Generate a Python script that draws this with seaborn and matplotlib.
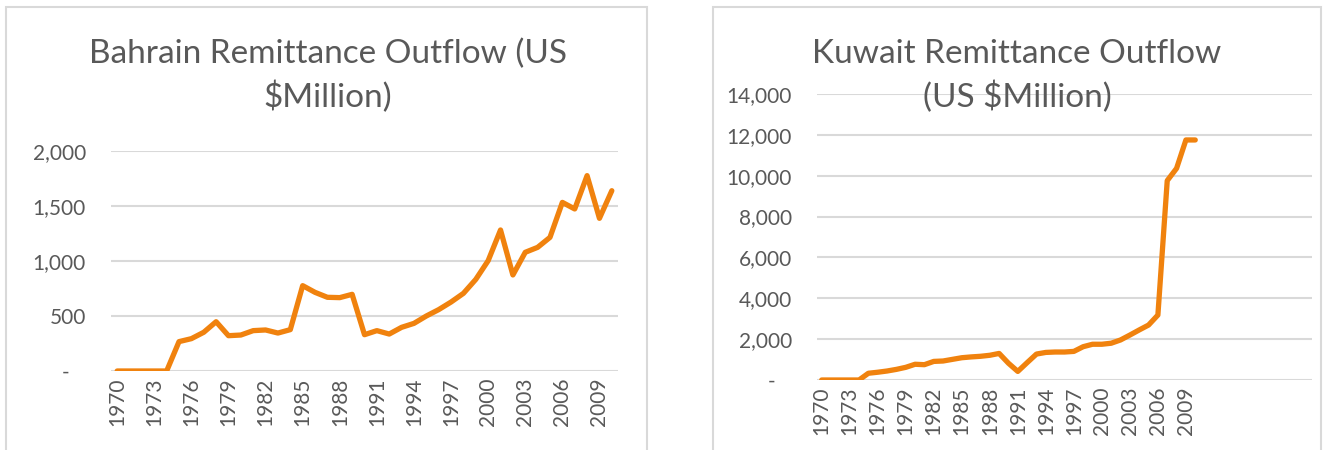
import matplotlib
matplotlib.use("Agg")
import matplotlib.pyplot as plt
import matplotlib.ticker as mticker
from matplotlib.patches import Rectangle
import seaborn as sns
import pandas as pd

# %%
# data (US $ million)
years = list(range(1970, 2011))

bahrain = [0, 0, 0, 0, 0, 267, 294, 352, 448, 321,
           327, 367, 373, 345, 376, 776, 715, 670, 667, 697,
           330, 367, 336, 397, 433, 500, 558, 627, 706, 833,
           1003, 1282, 873, 1079, 1124, 1215, 1533, 1473, 1776, 1388,
           1639]

kuwait = [0, 0, 0, 0, 0, 330, 380, 440, 520, 620,
          770, 750, 910, 930, 1010, 1090, 1130, 1160, 1210, 1300,
          820, 420, 850, 1270, 1350, 1370, 1370, 1400, 1630, 1750,
          1750, 1800, 1960, 2200, 2450, 2690, 3180, 9760, 10360, 11750,
          11750]

tick_labels = [str(y) for y in range(1970, 2010, 3)]
kuwait_slots = 53  # category axis in Excel runs past the data

bahrain_title = "Bahrain Remittance Outflow (US\n$Million)"
kuwait_title = "Kuwait Remittance Outflow\n(US $Million)"

df = pd.DataFrame({"Year": years, "idx": range(len(years)),
                   "Bahrain": bahrain, "Kuwait": kuwait})

# %%
sns.set_style("white")
plt.rcParams["font.family"] = ["Lato", "DejaVu Sans"]

GREY = "#595959"
GRID = "#d9d9d9"
ORANGE = "#F0820E"

fig = plt.figure(figsize=(13.25, 4.5), dpi=100)

# chart frames
for x0, x1 in [(6, 647), (713, 1321)]:
    fig.patches.append(Rectangle((x0 / 1325, -0.1), (x1 - x0) / 1325, 1.1 - 7 / 450,
                                 transform=fig.transFigure, fill=False,
                                 edgecolor=GRID, linewidth=1.5))


def fmt(v, pos):
    if v == 0:
        return "-   "
    return f"{v:,.0f}"


def style(ax, n_slots, ymax, step):
    ax.set_xlim(-0.5, n_slots - 0.5)
    ax.set_ylim(0, ymax)
    ax.yaxis.set_major_locator(mticker.MultipleLocator(step))
    ax.yaxis.set_major_formatter(mticker.FuncFormatter(fmt))
    ax.set_xticks(range(0, len(tick_labels) * 3, 3))
    ax.set_xticklabels(tick_labels, rotation=90)
    ax.grid(axis="y", color=GRID, linewidth=1.5)
    ax.set_axisbelow(True)
    sns.despine(ax=ax, left=True, bottom=True)
    ax.tick_params(axis="both", length=0, labelsize=15, colors=GREY)
    ax.tick_params(axis="y", pad=18)
    ax.tick_params(axis="x", pad=5)
    ax.set_xlabel("")
    ax.set_ylabel("")


# a. Bahrain
ax1 = fig.add_axes([111 / 1325, 79 / 450, 507 / 1325, 220 / 450])
sns.lineplot(data=df, x="idx", y="Bahrain", ax=ax1, color=ORANGE, linewidth=3.8)
style(ax1, len(years), 2000, 500)
fig.text(328 / 1325, 1 - 76 / 450, bahrain_title, ha="center", va="center",
         fontsize=24, color=GREY, linespacing=1.42)

# b. Kuwait
ax2 = fig.add_axes([817 / 1325, 70 / 450, 495 / 1325, 286 / 450])
sns.lineplot(data=df, x="idx", y="Kuwait", ax=ax2, color=ORANGE, linewidth=3.8)
style(ax2, kuwait_slots, 14000, 2000)
fig.text(1017 / 1325, 1 - 76 / 450, kuwait_title, ha="center", va="center",
         fontsize=24, color=GREY, linespacing=1.42)

fig.savefig("out.png", dpi=100, facecolor="white")
